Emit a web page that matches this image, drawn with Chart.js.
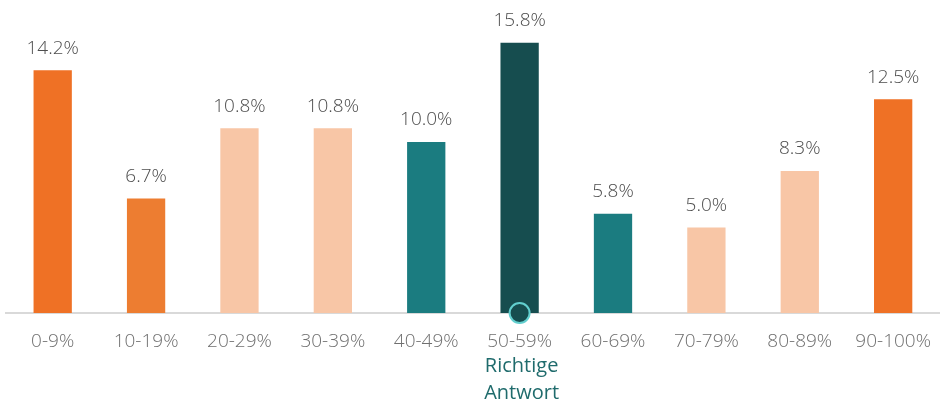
<!DOCTYPE html>
<html>
<head>
<meta charset="utf-8">
<script src="https://cdn.jsdelivr.net/npm/chart.js@4"></script>
<style>
  html, body { margin: 0; padding: 0; background: #fff; }
  #wrap { width: 940px; height: 404px; }
</style>
</head>
<body>
<div id="wrap"><canvas id="myChart"></canvas></div>
<script>
// answer buckets and share of answers (%)
const categories = ["0-9%", "10-19%", "20-29%", "30-39%", "40-49%", "50-59%", "60-69%", "70-79%", "80-89%", "90-100%"];
const values = [14.2, 6.7, 10.8, 10.8, 10.0, 15.8, 5.8, 5.0, 8.3, 12.5];
const barColors = ["#EF7125", "#ED7D31", "#F8C6A6", "#F8C6A6", "#1B7C80", "#164D4F", "#1B7C80", "#F8C6A6", "#F8C6A6", "#EF7125"];
const correctIndex = 5;
const correctLabel = ["Richtige", "Antwort"];

// marker sitting on the axis under the correct bucket
const markerData = categories.map((c, i) => (i === correctIndex ? 0 : null));

const valueLabels = {
  id: "valueLabels",
  afterDatasetsDraw(chart) {
    const ctx = chart.ctx;
    const meta = chart.getDatasetMeta(1);
    ctx.save();
    ctx.font = "300 19px 'Open Sans'";
    ctx.fillStyle = "#4D4D4D";
    ctx.textAlign = "center";
    ctx.textBaseline = "middle";
    meta.data.forEach((bar, i) => {
      ctx.fillText(values[i].toFixed(1) + "%", bar.x, bar.y - 22);
    });
    // note under the correct bucket
    const x = chart.scales.x.getPixelForValue(correctIndex);
    ctx.font = "20px 'Open Sans'";
    ctx.fillStyle = "#1F6B6C";
    ctx.fillText(correctLabel[0], x + 2, 366);
    ctx.fillText(correctLabel[1], x + 2, 393);
    ctx.restore();
  }
};

new Chart(document.getElementById("myChart"), {
  data: {
    labels: categories,
    datasets: [
      {
        type: "line",
        data: markerData,
        showLine: false,
        clip: false,
        pointRadius: 10,
        pointHoverRadius: 10,
        pointBackgroundColor: "#164D4F",
        pointBorderColor: "#62CFCF",
        pointBorderWidth: 2,
        order: 0,
      },
      {
        type: "bar",
        data: values,
        backgroundColor: barColors,
        barPercentage: 0.41,
        categoryPercentage: 1,
        order: 1,
      },
    ],
  },
  options: {
    responsive: true,
    maintainAspectRatio: false,
    animation: false,
    layout: { autoPadding: false, padding: { left: 6, right: 0, top: 0, bottom: 0 } },
    plugins: {
      legend: { display: false },
      tooltip: { enabled: false },
    },
    scales: {
      x: {
        grid: { display: false },
        border: { display: true, color: "#D9D9D9", width: 2 },
        ticks: {
          padding: 9,
          color: "#6F6F6F",
          font: { family: "'Open Sans'", size: 19, weight: 300 },
          maxRotation: 0,
          autoSkip: false,
        },
        afterFit(scale) { scale.height = 91; },
      },
      y: {
        display: false,
        min: 0,
        max: 18.3,
      },
    },
  },
  plugins: [valueLabels],
});
</script>
</body>
</html>
